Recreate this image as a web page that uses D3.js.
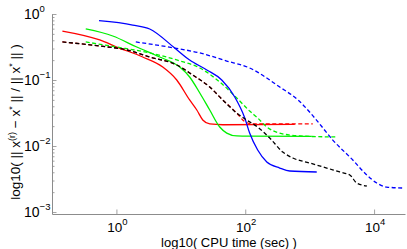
<!DOCTYPE html>
<meta charset="utf-8">
<script src="https://d3js.org/d3.v7.min.js"></script>
<style>
  body { margin: 0; background: #fff; }
  text { font-family: "Liberation Sans", Arial, sans-serif; }
</style>
<svg id="chart" width="407" height="249"></svg>
<script>

// data: CPU time (sec) and relative error
var timeRedSolid = [0.145, 0.551, 1.01, 2.56, 5.24, 8.64, 13.7, 17.7, 21.9, 28.1, 44.8, 587];
var errRedSolid  = [0.552, 0.404, 0.316, 0.223, 0.157, 0.100, 0.0498, 0.0351, 0.0248, 0.0216, 0.0210, 0.0213];

var timeRedDash = [0.145, 0.551, 1.45, 3.29, 8.64, 15.3, 28.1, 44.8, 73.8, 98, 130, 1117];
var errRedDash  = [0.377, 0.327, 0.285, 0.223, 0.169, 0.119, 0.0783, 0.0498, 0.0316, 0.0235, 0.0216, 0.0216];

var timeGreenSolid = [0.334, 0.877, 2.07, 4.70, 9.62, 13.7, 19.7, 28.1, 40.2, 51.6, 73.8, 117, 1079];
var errGreenSolid  = [0.593, 0.464, 0.316, 0.223, 0.157, 0.111, 0.0636, 0.0351, 0.0194, 0.0157, 0.0142, 0.0141, 0.0140];

var timeGreenDash = [0.334, 1.01, 3.29, 8.64, 19.7, 40.2, 73.8, 117, 156, 216, 343, 702, 2636];
var errGreenDash  = [0.377, 0.316, 0.257, 0.201, 0.152, 0.0933, 0.0534, 0.0339, 0.0266, 0.0194, 0.0157, 0.0142, 0.0137];

var timeBlueSolid = [0.537, 1.79, 3.29, 8.04, 13.7, 25.3, 43.2, 68.7, 98.3, 117, 156, 216, 343, 491, 1288];
var errBlueSolid  = [0.791, 0.681, 0.593, 0.305, 0.201, 0.142, 0.100, 0.0553, 0.0266, 0.0157, 0.00869, 0.00573, 0.00464, 0.00418, 0.00404];

var timeBlueDash = [2.0, 8.04, 19.7, 51.6, 117, 343, 660, 1200, 2286, 4670, 7703, 11020, 15750, 27900];
var errBlueDash  = [0.377, 0.305, 0.257, 0.194, 0.152, 0.0783, 0.0498, 0.0266, 0.0123, 0.00614, 0.00364, 0.00275, 0.00239, 0.00231];

var timeBlackDash = [0.145, 0.551, 1.45, 3.29, 8.64, 15.3, 28.1, 44.8, 73.8, 105, 156, 240, 382, 547, 1000, 1843, 2931, 4198, 5383, 7703];
var errBlackDash  = [0.377, 0.327, 0.285, 0.223, 0.169, 0.119, 0.0783, 0.0498, 0.0316, 0.0248, 0.0194, 0.0132, 0.00811, 0.00658, 0.00553, 0.00464, 0.00404, 0.00364, 0.00275, 0.00248];

var xTickValues = [1, 100, 10000];
var xTickExps = ["0", "2", "4"];
var yTickValues = [1, 0.1, 0.01, 0.001];
var yTickExps = ["0", "\u22121", "\u22122", "\u22123"];

var series = [
  {t: timeRedDash,    e: errRedDash,    color: "#ff0000", dash: "4,2.5"},
  {t: timeRedSolid,   e: errRedSolid,   color: "#ff0000", dash: null},
  {t: timeGreenSolid, e: errGreenSolid, color: "#00f000", dash: null},
  {t: timeGreenDash,  e: errGreenDash,  color: "#00f000", dash: "4,2.5"},
  {t: timeBlueSolid,  e: errBlueSolid,  color: "#0000ff", dash: null},
  {t: timeBlueDash,   e: errBlueDash,   color: "#0000ff", dash: "4,2.5"},
  {t: timeBlackDash,  e: errBlackDash,  color: "#000000", dash: "4,2.5"}
];

var svg = d3.select("#chart");

// scales
var x = d3.scaleLog()
  .domain([0.1, Math.pow(10, 4.48)])
  .range([52, 405]);
var y = d3.scaleLog()
  .domain([Math.pow(10, -3.03), 1])
  .range([214, 14]);

var axisColor = "#8c8c8c";

// Y axis: major + minor ticks pointing inward
var yMinor = [];
[0.001, 0.01, 0.1].forEach(function(d) {
  for (var k = 2; k <= 9; k++) yMinor.push(d * k);
});

var gyMinor = svg.append("g")
  .attr("transform", "translate(52,0)")
  .call(d3.axisLeft(y).tickValues(yMinor).tickSize(-2.5).tickSizeOuter(0).tickFormat(""));
var gy = svg.append("g")
  .attr("transform", "translate(52,0)")
  .call(d3.axisLeft(y).tickValues(yTickValues).tickSize(-4.5).tickSizeOuter(0).tickFormat(""));

// X axis
var gx = svg.append("g")
  .attr("transform", "translate(0,214)")
  .call(d3.axisBottom(x).tickValues(xTickValues).tickSize(-4.5).tickSizeOuter(0).tickFormat(""));

[gyMinor, gy, gx].forEach(function(g) {
  g.select(".domain").attr("stroke", axisColor).attr("stroke-width", 1);
  g.selectAll(".tick line").attr("stroke", axisColor).attr("stroke-width", 0.8);
});
gyMinor.select(".domain").remove();

// tick labels with superscripts
var xLab = svg.append("g").selectAll("text")
  .data(xTickValues)
  .enter().append("text")
  .attr("x", function(d) { return x(d) + 1; })
  .attr("y", 232)
  .attr("text-anchor", "middle")
  .attr("font-size", 13.5)
  .attr("fill", "#000");
xLab.append("tspan").text("10");
xLab.append("tspan")
  .attr("dy", -7)
  .attr("font-size", 9.5)
  .text(function(d, i) { return xTickExps[i]; });

var yLab = svg.append("g").selectAll("text")
  .data(yTickValues)
  .enter().append("text")
  .attr("x", 24)
  .attr("y", function(d) { return y(d) + 5; })
  .attr("text-anchor", "start")
  .attr("font-size", 14)
  .attr("fill", "#000");
yLab.append("tspan").text("10");
yLab.append("tspan")
  .attr("dy", -7)
  .attr("font-size", 9.5)
  .text(function(d, i) { return yTickExps[i]; });

// axis titles
svg.append("text")
  .attr("x", 229)
  .attr("y", 246.5)
  .attr("text-anchor", "middle")
  .attr("font-size", 13)
  .text("log10( CPU time (sec) )");

var yTitle = svg.append("text")
  .attr("transform", "translate(20,122) rotate(-90)")
  .attr("text-anchor", "middle")
  .attr("font-size", 13.5);
yTitle.append("tspan").text("log10( || x");
yTitle.append("tspan").attr("dy", -5).attr("font-size", 9).text("(r)");
yTitle.append("tspan").attr("dy", 5).text(" \u2212 x");
yTitle.append("tspan").attr("dy", -5).attr("font-size", 9).text("*");
yTitle.append("tspan").attr("dy", 5).text(" || / || x");
yTitle.append("tspan").attr("dy", -5).attr("font-size", 9).text("*");
yTitle.append("tspan").attr("dy", 5).text(" || )");

// curves
var line = d3.line()
  .x(function(d) { return x(d[0]); })
  .y(function(d) { return y(d[1]); })
  .curve(d3.curveMonotoneX);

series.forEach(function(s) {
  var pts = s.t.map(function(t, i) { return [t, s.e[i]]; });
  svg.append("path")
    .datum(pts)
    .attr("fill", "none")
    .attr("stroke", s.color)
    .attr("stroke-width", 1.3)
    .attr("stroke-dasharray", s.dash)
    .attr("d", line);
});

</script>
